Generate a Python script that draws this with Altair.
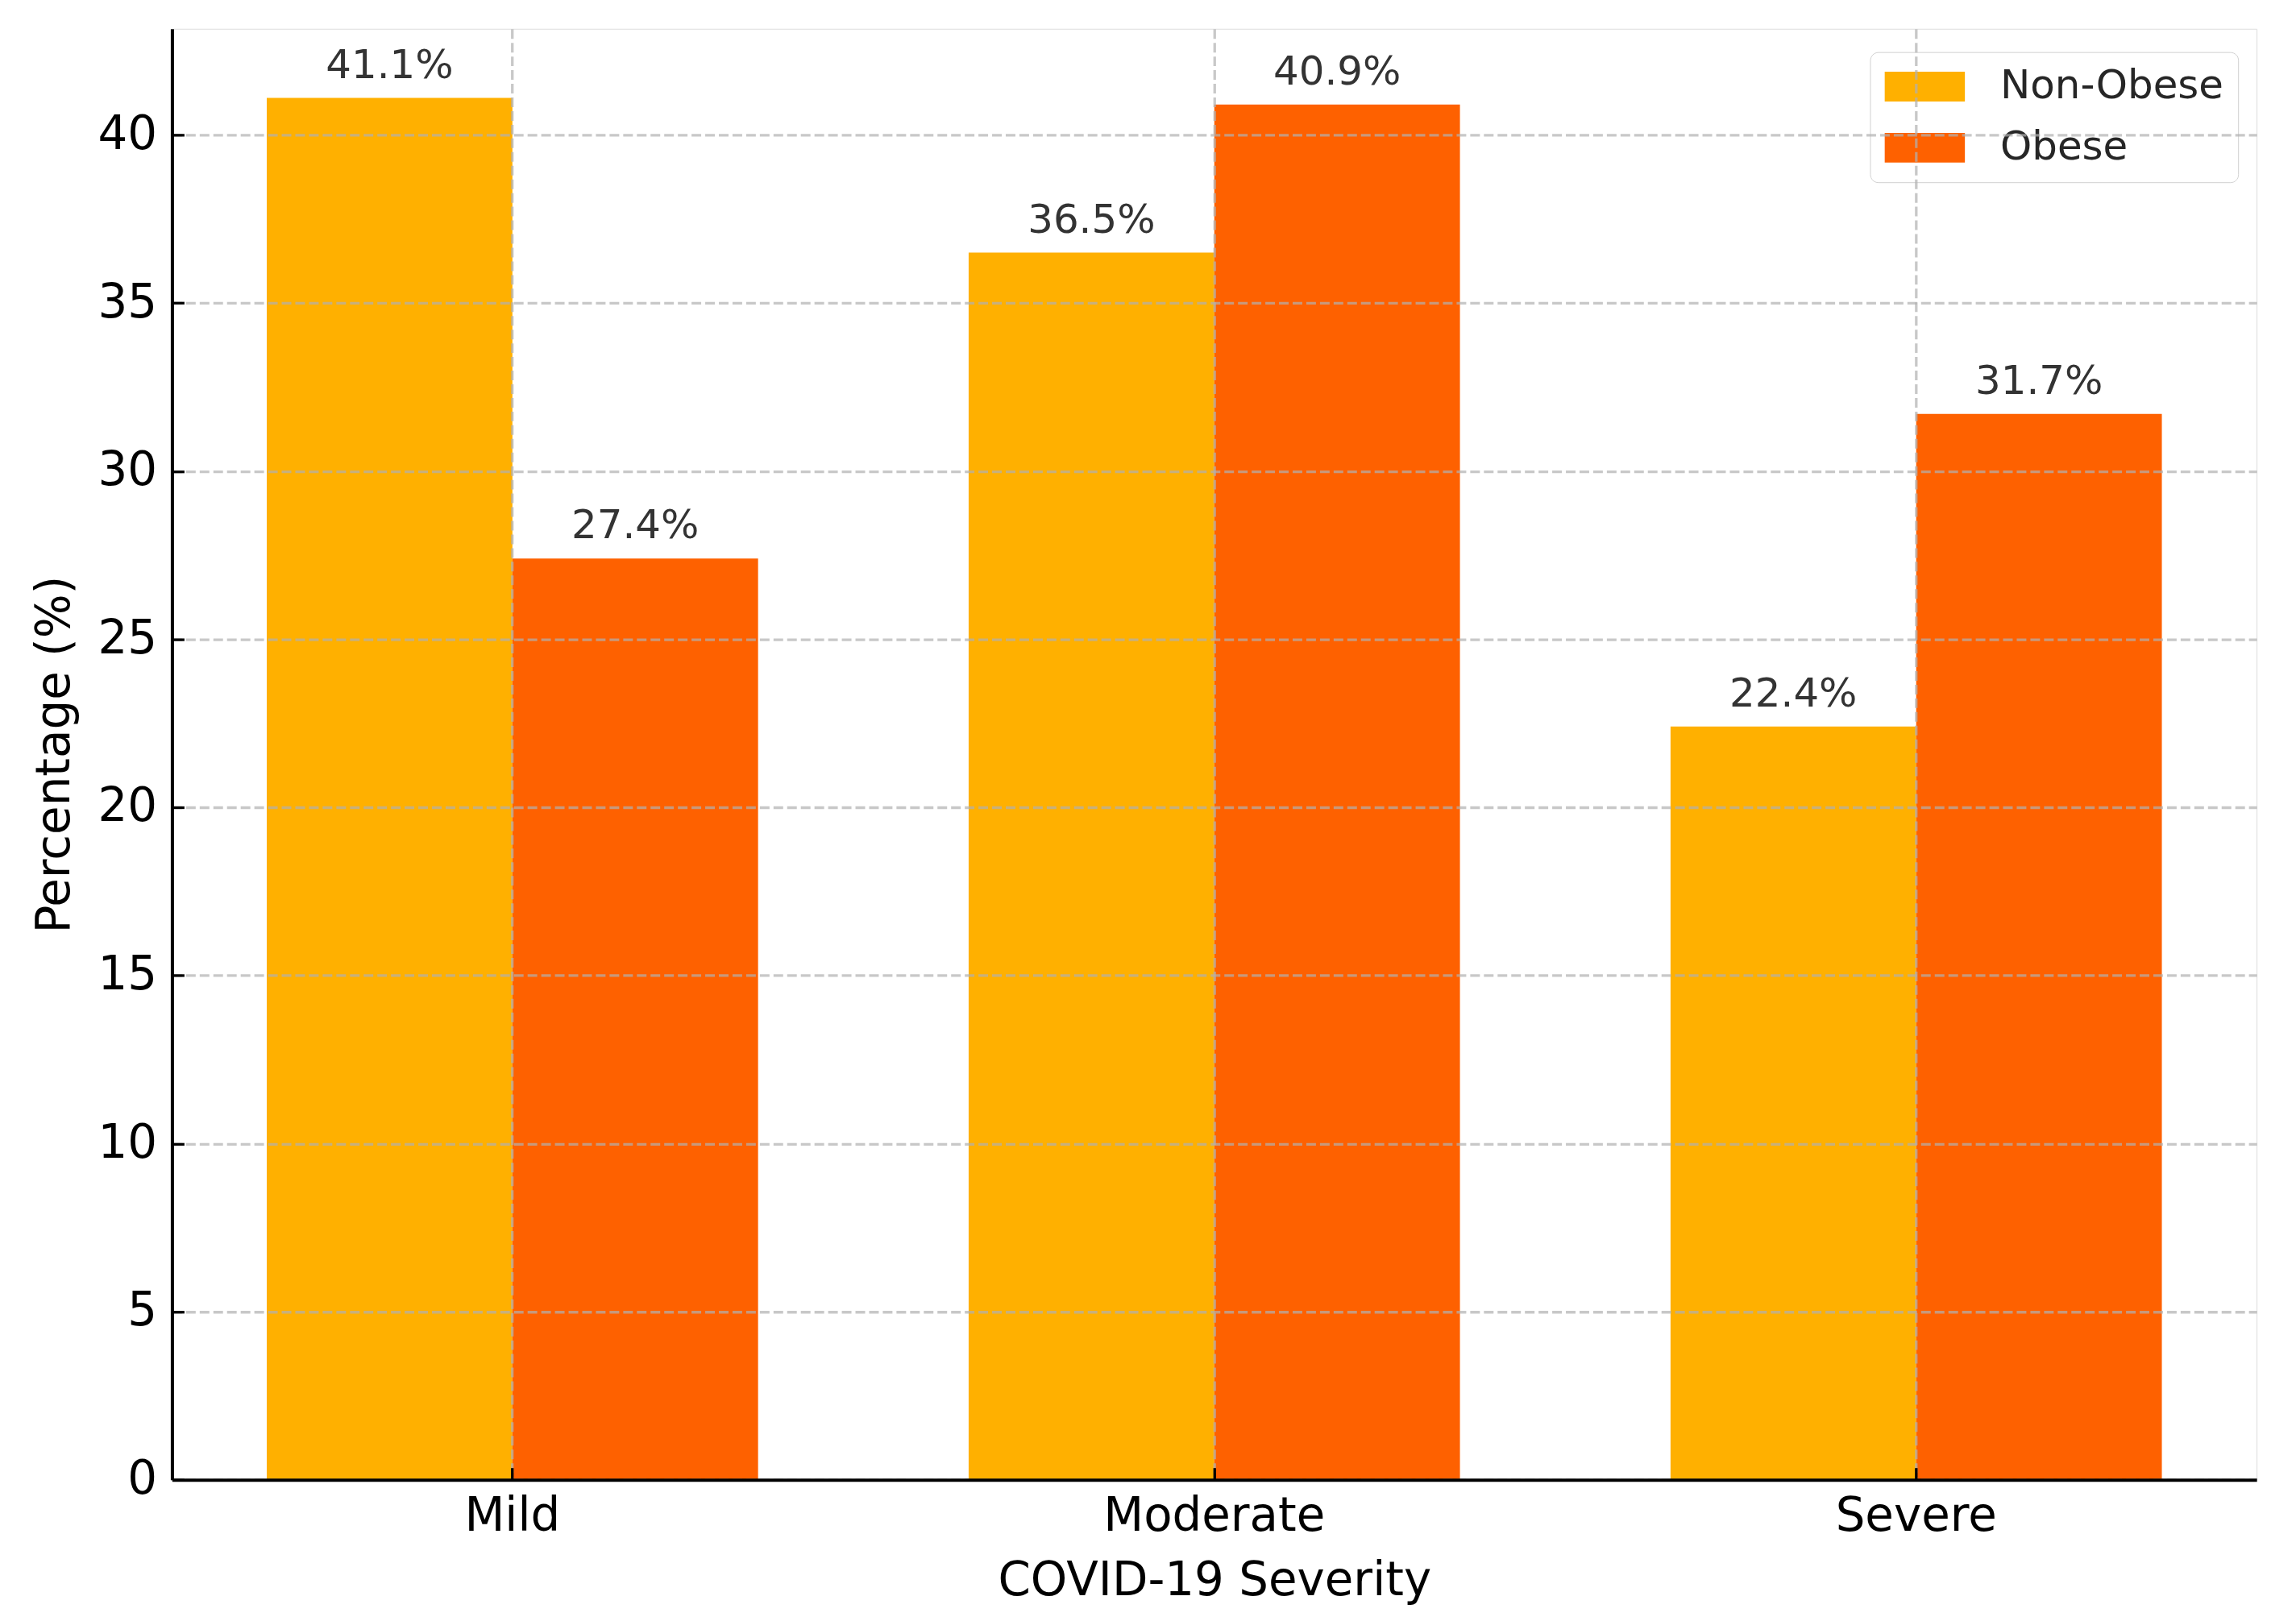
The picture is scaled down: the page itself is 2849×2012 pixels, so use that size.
import altair as alt
import pandas as pd

categories = ["Mild", "Moderate", "Severe"]
groups = ["Non-Obese", "Obese"]
non_obese = [41.1, 36.5, 22.4]
obese = [27.4, 40.9, 31.7]
colors = ["#FFB000", "#FE6100"]
y_ticks = [0, 5, 10, 15, 20, 25, 30, 35, 40]
y_max = 43.155

rows = []
for i, c in enumerate(categories):
    rows.append({"severity": c, "group": groups[0], "value": non_obese[i]})
    rows.append({"severity": c, "group": groups[1], "value": obese[i]})
df = pd.DataFrame(rows)

W, H = 2594, 1806
FONT = "DejaVu Sans"

x_scale = alt.Scale(domain=categories, paddingInner=0.3, paddingOuter=0.135)
y_scale = alt.Scale(domain=[0, y_max], nice=False, zero=True)
xo_scale = alt.Scale(domain=groups, paddingInner=0, paddingOuter=0)
color_scale = alt.Scale(domain=groups, range=colors)

grid_kw = dict(grid=True, gridColor="#b0b0b0", gridOpacity=0.7,
               gridDash=[12, 5], gridWidth=3.3)

bars = alt.Chart(df).mark_bar(cornerRadius=0, strokeWidth=0).encode(
    x=alt.X("severity:N", scale=x_scale, sort=categories, axis=alt.Axis(
        title="COVID-19 Severity", orient="bottom", labelAngle=0,
        labelFont=FONT, labelFontSize=58, labelColor="black", labelPadding=17,
        labelLimit=0, ticks=False, domain=True, domainColor="black",
        domainWidth=4, bandPosition=0.5, titleFont=FONT, titleFontSize=58,
        titleFontWeight="normal", titleColor="black", titleX=W / 2,
        titleY=97, zindex=1, **grid_kw)),
    y=alt.Y("value:Q", scale=y_scale, axis=alt.Axis(
        title="Percentage (%)", orient="left", values=y_ticks,
        labelFont=FONT, labelFontSize=58, labelColor="black", labelPadding=19,
        labelLimit=0, ticks=False, domain=True, domainColor="black",
        domainWidth=4, titleFont=FONT, titleFontSize=58,
        titleFontWeight="normal", titleColor="black", titleX=-116,
        titleY=H / 2, titleAngle=270, zindex=1, **grid_kw)),
    xOffset=alt.XOffset("group:N", scale=xo_scale, sort=groups),
    color=alt.Color("group:N", scale=color_scale, sort=groups, legend=alt.Legend(
        orient="none", legendX=2113, legendY=29, title=None,
        labelFont=FONT, labelFontSize=50, labelColor="#262626", labelLimit=0,
        symbolType="M-1,-0.37H1V0.37H-1Z", symbolSize=10000,
        symbolStrokeWidth=0, symbolOpacity=1,
        fillColor="rgba(255,255,255,0.8)", strokeColor="#d0d0d0",
        cornerRadius=10, padding=18, labelOffset=44, rowPadding=26,
        clipHeight=50)),
)

labels = alt.Chart(df).transform_calculate(
    label="format(datum.value, '.1f') + '%'"
).mark_text(font=FONT, fontSize=50, color="#333333", baseline="alphabetic",
            align="center", dy=-25).encode(
    x=alt.X("severity:N", scale=x_scale, sort=categories, axis=alt.Axis(
        orient="top", offset=-H, labels=False, domain=False, grid=False,
        title=None, ticks=True, tickSize=15, tickWidth=3.3, tickColor="black",
        bandPosition=0.5, zindex=1)),
    y=alt.Y("value:Q", scale=y_scale, axis=alt.Axis(
        orient="right", offset=-W, values=y_ticks, labels=False, domain=False,
        grid=False, title=None, ticks=True, tickSize=15, tickWidth=3.3,
        tickColor="black", zindex=1)),
    xOffset=alt.XOffset("group:N", scale=xo_scale, sort=groups),
    text="label:N",
)

chart = alt.layer(bars, labels).resolve_axis(
    x="independent", y="independent"
).properties(
    width=W, height=H,
    padding={"left": 206, "top": 25, "right": 41, "bottom": 165},
    autosize=alt.AutoSizeParams(type="none"),
    background="white",
).configure_view(stroke=None).configure_legend(strokeWidth=3).configure(font=FONT)

chart.save("out.html", embed_options={"renderer": "svg", "actions": False})
